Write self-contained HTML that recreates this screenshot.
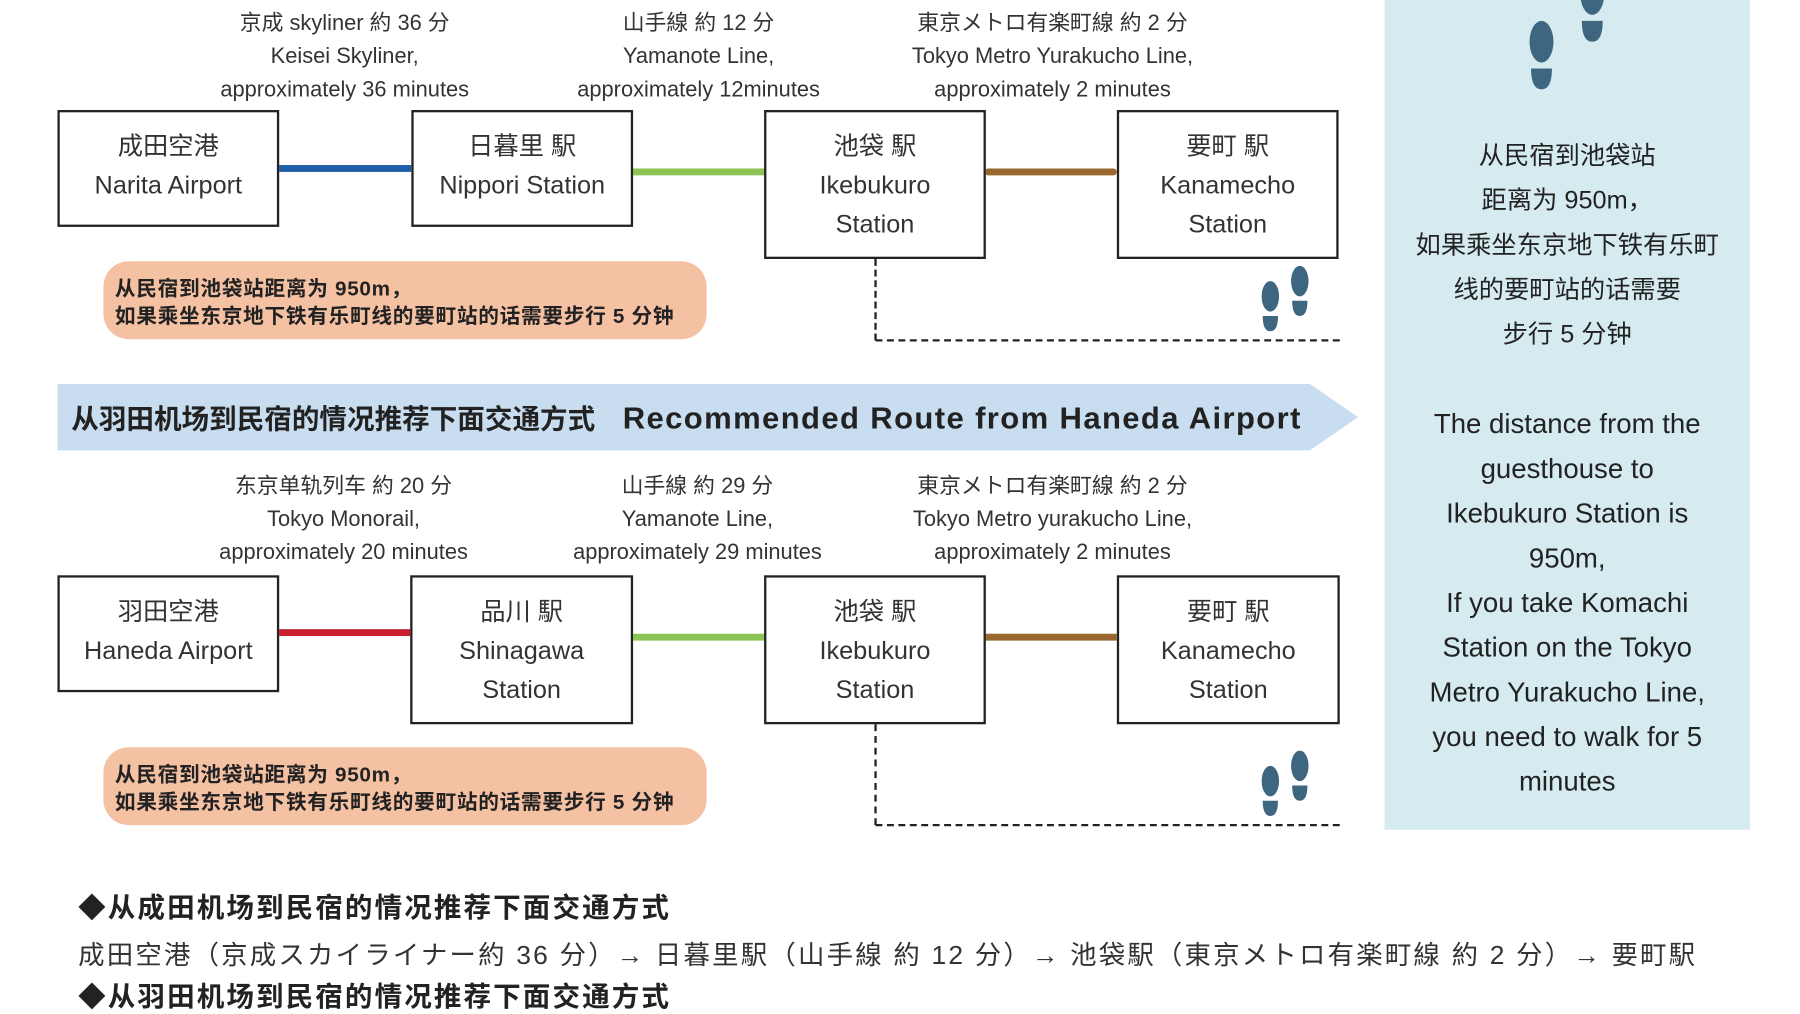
<!DOCTYPE html>
<html><head><meta charset="utf-8">
<style>
html,body{margin:0;padding:0;background:#fff;width:1800px;height:1000px;overflow:hidden}
#s{position:absolute;left:0;top:0;width:1560px;height:867px;transform:scale(1.149,1.146);transform-origin:0 0;font-family:"Liberation Sans","Noto Sans CJK SC",sans-serif;color:#222}
.a{position:absolute}
.lbl{position:absolute;width:320px;text-align:center;font-size:19px;line-height:29px;color:#333}
.box{position:absolute;border:2px solid #222;box-sizing:border-box;background:#fff;text-align:center;font-size:22px;line-height:34px;color:#333;padding-top:13px}
.ln{position:absolute;height:6px}
.pill{position:absolute;left:90px;width:525px;height:68px;background:#f5c1a3;border-radius:22px;font-weight:bold;font-size:18px;letter-spacing:0.6px;line-height:24px;padding:12px 0 0 10px;box-sizing:border-box;color:#222;white-space:nowrap}
.dv{position:absolute;left:761px;width:0;border-left:2px dashed #222}
.dh{position:absolute;left:762px;width:404px;height:0;border-top:2px dashed #222}
.rp{position:absolute;left:1205px;top:0;width:318px;height:724px;background:#d5ebf0}
.rt{position:absolute;left:1205px;width:318px;text-align:center;font-size:22px;line-height:39px;color:#222}
</style></head><body>
<svg width="0" height="0" style="position:absolute"><defs>
<g id="fp"><ellipse cx="8" cy="14" rx="8" ry="14" fill="#3f6680"/><path d="M1 32 H15 Q15 46 8 46 Q1 46 1 32Z" fill="#3f6680"/></g>
</defs></svg>
<div id="s">
<div class="lbl" style="left:140px;top:6px">京成 skyliner 約 36 分<br>Keisei Skyliner,<br>approximately 36 minutes</div>
<div class="lbl" style="left:448px;top:6px">山手線 約 12 分<br>Yamanote Line,<br>approximately 12minutes</div>
<div class="lbl" style="left:756px;top:6px">東京メトロ有楽町線 約 2 分<br>Tokyo Metro Yurakucho Line,<br>approximately 2 minutes</div>
<div class="ln" style="left:242px;top:144px;width:116px;background:#1f5ea8"></div>
<div class="ln" style="left:550px;top:147px;width:115px;background:#8cc556"></div>
<div class="ln" style="left:857px;top:147px;width:115px;background:#9a672e;border-radius:3px"></div>
<div class="box" style="left:50px;top:96px;width:193px;height:102px">成田空港<br>Narita Airport</div>
<div class="box" style="left:358px;top:96px;width:193px;height:102px">日暮里 駅<br>Nippori Station</div>
<div class="box" style="left:665px;top:96px;width:193px;height:130px">池袋 駅<br>Ikebukuro<br>Station</div>
<div class="box" style="left:972px;top:96px;width:193px;height:130px">要町 駅<br>Kanamecho<br>Station</div>
<div class="pill" style="top:228px">从民宿到池袋站距离为 950m，<br>如果乘坐东京地下铁有乐町线的要町站的话需要步行 5 分钟</div>
<div class="dv" style="top:226px;height:71px"></div>
<div class="dh" style="top:296px"></div>
<svg class="a" style="left:1098px;top:232px" width="45" height="60"><use href="#fp" x="0" y="14" transform="scale(0.95)"/><use href="#fp" x="27" y="0" transform="scale(0.95)"/></svg>
<svg class="a" style="left:50px;top:335px" width="1135" height="60"><polygon points="0,0 1090,0 1132,29 1090,58 0,58" fill="#c9ddf0"/></svg>
<div class="a" style="left:62px;top:346px;font-size:24px;font-weight:bold;white-space:nowrap;color:#222">从羽田机场到民宿的情况推荐下面交通方式　<span style="font-size:27px;letter-spacing:1.2px">Recommended Route from Haneda Airport</span></div>
<div class="lbl" style="left:139px;top:410px">东京单轨列车 約 20 分<br>Tokyo Monorail,<br>approximately 20 minutes</div>
<div class="lbl" style="left:447px;top:410px">山手線 約 29 分<br>Yamanote Line,<br>approximately 29 minutes</div>
<div class="lbl" style="left:756px;top:410px">東京メトロ有楽町線 約 2 分<br>Tokyo Metro yurakucho Line,<br>approximately 2 minutes</div>
<div class="ln" style="left:242px;top:549px;width:116px;background:#c8202f"></div>
<div class="ln" style="left:550px;top:553px;width:115px;background:#8cc556"></div>
<div class="ln" style="left:857px;top:553px;width:115px;background:#9a672e"></div>
<div class="box" style="left:50px;top:502px;width:193px;height:102px">羽田空港<br>Haneda Airport</div>
<div class="box" style="left:357px;top:502px;width:194px;height:130px">品川 駅<br>Shinagawa<br>Station</div>
<div class="box" style="left:665px;top:502px;width:193px;height:130px">池袋 駅<br>Ikebukuro<br>Station</div>
<div class="box" style="left:972px;top:502px;width:194px;height:130px">要町 駅<br>Kanamecho<br>Station</div>
<div class="pill" style="top:652px">从民宿到池袋站距离为 950m，<br>如果乘坐东京地下铁有乐町线的要町站的话需要步行 5 分钟</div>
<div class="dv" style="top:632px;height:88px"></div>
<div class="dh" style="top:719px"></div>
<svg class="a" style="left:1098px;top:655px" width="45" height="60"><use href="#fp" x="0" y="14" transform="scale(0.95)"/><use href="#fp" x="27" y="0" transform="scale(0.95)"/></svg>
<div class="rp"></div>
<svg class="a" style="left:1326px;top:0px" width="80" height="80"><use href="#fp" x="4" y="14" transform="scale(1.3)"/><use href="#fp" x="38" y="-18" transform="scale(1.3)"/></svg>
<div class="rt" style="top:116px">从民宿到池袋站<br>距离为 950m，<br>如果乘坐东京地下铁有乐町<br>线的要町站的话需要<br>步行 5 分钟</div>
<div class="rt" style="top:351px;font-size:24px">The distance from the<br>guesthouse to<br>Ikebukuro Station is<br>950m,<br>If you take Komachi<br>Station on the Tokyo<br>Metro Yurakucho Line,<br>you need to walk for 5<br>minutes</div>
<div class="a" style="left:68px;top:772px;font-size:24px;font-weight:bold;letter-spacing:1.8px;white-space:nowrap">◆从成田机场到民宿的情况推荐下面交通方式</div>
<div class="a" style="left:68px;top:814px;font-size:23px;letter-spacing:1.9px;white-space:nowrap;color:#333">成田空港（京成スカイライナー約 36 分）→ 日暮里駅（山手線 約 12 分）→ 池袋駅（東京メトロ有楽町線 約 2 分）→ 要町駅</div>
<div class="a" style="left:68px;top:850px;font-size:24px;font-weight:bold;letter-spacing:1.8px;white-space:nowrap">◆从羽田机场到民宿的情况推荐下面交通方式</div>
</div>
</body></html>
